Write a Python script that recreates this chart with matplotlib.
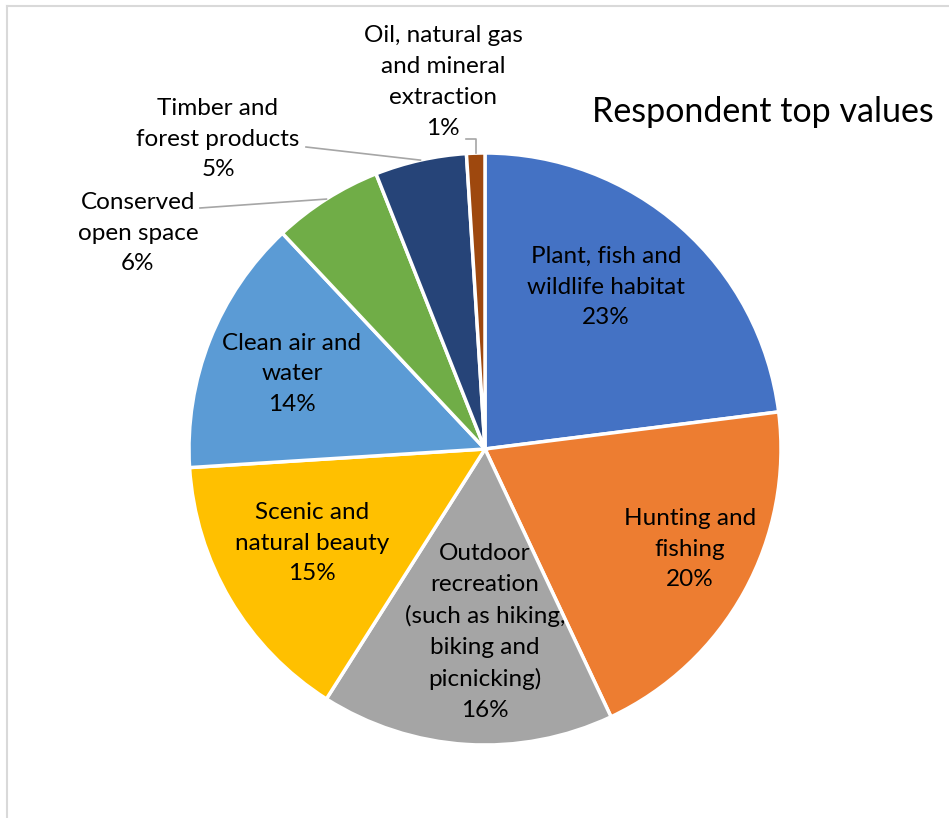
import matplotlib.pyplot as plt
import numpy as np

categories = [
    "Plant, fish and\nwildlife habitat",
    "Hunting and\nfishing",
    "Outdoor\nrecreation\n(such as hiking,\nbiking and\npicnicking)",
    "Scenic and\nnatural beauty",
    "Clean air and\nwater",
    "Conserved\nopen space",
    "Timber and\nforest products",
    "Oil, natural gas\nand mineral\nextraction",
]
shares = [23, 20, 16, 15, 14, 6, 5, 1]
colors = ["#4472C4", "#ED7D31", "#A5A5A5", "#FFC000",
          "#5B9BD5", "#70AD47", "#264478", "#9E480E"]

W, H = 949, 818
plt.rcParams["font.family"] = ["Lato", "DejaVu Sans"]

fig = plt.figure(figsize=(W / 100, H / 100), dpi=100)
ax = fig.add_axes([0, 0, 1, 1])

cx, cy, R = 485, H - 449, 296
wedges, _ = ax.pie(shares, colors=colors, startangle=90, counterclock=False,
                   center=(cx, cy), radius=R, frame=True,
                   wedgeprops=dict(edgecolor="white", linewidth=2.5))
ax.set_xlim(0, W)
ax.set_ylim(0, H)
ax.axis("off")

labels = [f"{c}\n{s}%" for c, s in zip(categories, shares)]
fs, ls = 17.5, 1.57

# inside labels (pixel positions, top-left origin)
inside = {0: (606, 287), 1: (690, 549), 2: (485, 632), 3: (312, 543), 4: (292, 374)}
for i, (px, py) in inside.items():
    ax.text(px, H - py, labels[i], ha="center", va="center", fontsize=fs,
            linespacing=ls, color="black")

# outside labels with leader lines
outside = {5: (138, 233), 6: (218, 139), 7: (443, 82)}
for i, (px, py) in outside.items():
    ax.text(px, H - py, labels[i], ha="center", va="center", fontsize=fs,
            linespacing=ls, color="black")

def edge_point(i):
    w = wedges[i]
    mid = np.deg2rad((w.theta1 + w.theta2) / 2)
    return cx + R * np.cos(mid), cy + R * np.sin(mid)

lc = "#A6A6A6"
x0, y0 = edge_point(5)
ax.plot([200, x0], [H - 208, y0], color=lc, lw=1.2)
x0, y0 = edge_point(6)
ax.plot([306, x0], [H - 147, y0], color=lc, lw=1.2)
x0, y0 = edge_point(7)
ax.plot([466, x0, x0], [H - 139, H - 139, y0], color=lc, lw=1.2)

ax.text(592, H - 112, "Respondent top values", ha="left", va="center",
        fontsize=24.5, color="black")

# chart area border (left and top edges)
ax.plot([7, 7], [0, H - 6], color="#D9D9D9", lw=1.5, clip_on=False)
ax.plot([7, W], [H - 6, H - 6], color="#D9D9D9", lw=1.5, clip_on=False)

fig.savefig("out.png", dpi=100)
